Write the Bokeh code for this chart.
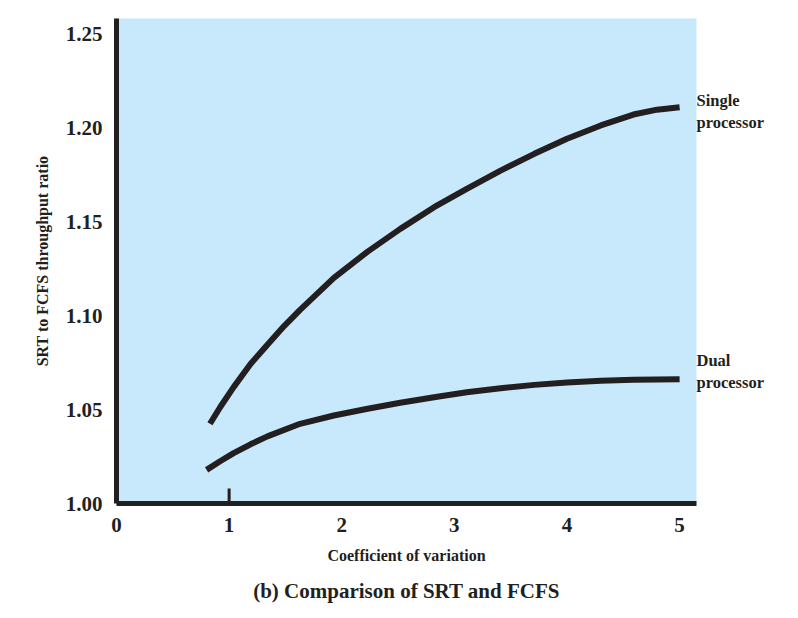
from bokeh.plotting import figure
from bokeh.models import Range1d, FixedTicker, LinearAxis, Title
from bokeh.embed import file_html
from bokeh.resources import INLINE

# Data
single_x = [0.83, 0.92, 1.04, 1.19, 1.34, 1.49, 1.63, 1.93, 2.23, 2.52, 2.82, 3.11, 3.41, 3.71, 4.00, 4.30, 4.59, 4.80, 5.00]
single_y = [1.0424, 1.0512, 1.0619, 1.0742, 1.0845, 1.0945, 1.1030, 1.1200, 1.1340, 1.1461, 1.1576, 1.1674, 1.1771, 1.1860, 1.1940, 1.2011, 1.2069, 1.2095, 1.2108]
dual_x = [0.80, 0.92, 1.04, 1.19, 1.34, 1.63, 1.93, 2.23, 2.52, 2.82, 3.11, 3.41, 3.71, 4.00, 4.30, 4.59, 5.00]
dual_y = [1.0179, 1.0225, 1.0268, 1.0315, 1.0357, 1.0424, 1.0468, 1.0504, 1.0536, 1.0565, 1.0592, 1.0613, 1.0631, 1.0644, 1.0653, 1.0658, 1.0661]
x_ticks = [0, 1, 2, 3, 4, 5]
y_ticks = [1.00, 1.05, 1.10, 1.15, 1.20, 1.25]
y_tick_labels = {1.00: "1.00", 1.05: "1.05", 1.10: "1.10", 1.15: "1.15", 1.20: "1.20", 1.25: "1.25"}
marker_tick_x = [1]
marker_tick_y0 = [1.0]
marker_tick_y1 = [1.008]
# series names, shown right of the frame, one line per entry
series_label_pos = [1.2144, 1.2027, 1.0761, 1.0644]
series_label_text = ["Single", "processor", "Dual", "processor"]

FONT = "Liberation Serif"
INK = "#231f20"

p = figure(width=782, height=602, frame_width=580, frame_height=485,
           min_border_left=116, min_border_right=86, min_border_top=18,
           x_range=Range1d(0, 5.15), y_range=Range1d(1.0, 1.258),
           output_backend="svg", toolbar_location=None)
p.outline_line_color = None
p.background_fill_color = "#c8e9fb"
p.border_fill_color = "white"
p.grid.visible = False

p.line(single_x, single_y, line_width=6, line_color=INK)
p.line(dual_x, dual_y, line_width=6, line_color=INK)
p.segment(x0=marker_tick_x, y0=marker_tick_y0, x1=marker_tick_x, y1=marker_tick_y1,
          line_width=3, line_color=INK)

for ax in (p.xaxis[0], p.yaxis[0]):
    ax.axis_line_width = 5
    ax.axis_line_color = INK
    ax.major_tick_line_color = None
    ax.minor_tick_line_color = None
    ax.major_label_text_font = FONT
    ax.major_label_text_font_style = "bold"
    ax.major_label_text_font_size = "21px"
    ax.major_label_text_color = INK
    ax.axis_label_text_font = FONT
    ax.axis_label_text_font_style = "bold"
    ax.axis_label_text_font_size = "16px"
    ax.axis_label_text_color = INK

p.xaxis.ticker = FixedTicker(ticks=x_ticks)
p.yaxis.ticker = FixedTicker(ticks=y_ticks)
p.yaxis.major_label_overrides = y_tick_labels
p.xaxis.major_label_standoff = 8
p.yaxis.major_label_standoff = 8
p.xaxis.axis_label = "Coefficient of variation"
p.yaxis.axis_label = "SRT to FCFS throughput ratio"
p.xaxis.axis_label_standoff = 12
p.yaxis.axis_label_standoff = 12

# series labels as a right-hand axis (text outside the frame is not clipped there)
name_axis = LinearAxis(ticker=FixedTicker(ticks=series_label_pos),
                       major_label_overrides=dict(zip(series_label_pos, series_label_text)))
name_axis.axis_line_color = None
name_axis.major_tick_line_color = None
name_axis.minor_tick_line_color = None
name_axis.major_tick_out = 0
name_axis.major_tick_in = 0
name_axis.major_label_standoff = 0
name_axis.major_label_text_font = FONT
name_axis.major_label_text_font_style = "bold"
name_axis.major_label_text_font_size = "16.5px"
name_axis.major_label_text_color = INK
p.add_layout(name_axis, "right")

cap = Title(text="(b) Comparison of SRT and FCFS", align="center", text_font=FONT,
            text_font_style="bold", text_font_size="21px", text_color=INK, standoff=21)
p.add_layout(cap, "below")

open("out.html", "w").write(file_html(p, INLINE))
